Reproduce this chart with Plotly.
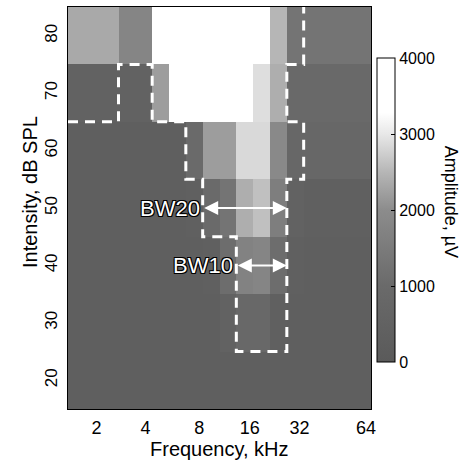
import plotly.graph_objects as go

# ---------------- data ----------------
intensity_db = [20, 30, 40, 50, 60, 70, 80]          # row centres (dB SPL)
n_freq_cols = 18                                     # frequency columns of the map
freq_tick_pos = [1.7, 4.6, 7.8, 10.8, 13.75, 17.7]   # column position of tick labels
freq_tick_text = ["2", "4", "8", "16", "32", "64"]
db_ticks = [20, 30, 40, 50, 60, 70, 80]

# amplitude (µV), one list per intensity row, 18 frequency columns each
amp_20 = [300] * 18
amp_30 = [300, 300, 300, 300, 300, 300, 300, 300, 300, 500, 850, 900, 400, 300, 300, 300, 300, 300]
amp_40 = [300, 300, 300, 300, 300, 300, 300, 300, 400, 1100, 1700, 1800, 1100, 400, 300, 300, 300, 300]
amp_50 = [300, 300, 300, 300, 300, 300, 300, 400, 1000, 1300, 2400, 2600, 1600, 500, 400, 400, 400, 400]
amp_60 = [300, 300, 300, 300, 300, 300, 300, 1000, 2200, 2200, 2850, 2850, 1900, 800, 800, 800, 800, 800]
amp_70 = [500, 500, 500, 500, 500, 2200, 4300, 4300, 4300, 4300, 4300, 2900, 2400, 950, 950, 950, 950, 950]
amp_80 = [2350, 2350, 2350, 1800, 1800, 4500, 4500, 4500, 4500, 4500, 4500, 4500, 2500, 1300, 1300, 1300, 1300, 1300]
amplitude = [amp_20, amp_30, amp_40, amp_50, amp_60, amp_70, amp_80]

# tuning-curve outline (column edge index, dB SPL)
outline_col = [0, 3, 3, 5, 5, 7, 7, 8, 8, 10, 10, 13, 13, 14, 14, 13, 13, 14, 14]
outline_db = [65, 65, 75, 75, 65, 65, 55, 55, 45, 45, 25, 25, 55, 55, 65, 65, 75, 75, 85]

# bandwidth arrows (column edges) and levels
bw20 = dict(label="BW20", lo=8, hi=13, db=50)
bw10 = dict(label="BW10", lo=10, hi=13, db=40)

amp_min, amp_max = 0, 4000
amp_ticks = [0, 1000, 2000, 3000, 4000]

# ---------------- figure ----------------
col_centres = [i + 0.5 for i in range(n_freq_cols)]

gray_scale = [
    [0.0, "rgb(90,90,90)"],
    [0.25, "rgb(106,106,106)"],
    [0.5, "rgb(140,140,140)"],
    [0.625, "rgb(182,182,182)"],
    [0.75, "rgb(232,232,232)"],
    [0.82, "rgb(255,255,255)"],
    [1.0, "rgb(255,255,255)"],
]

fig = go.Figure()
fig.add_trace(go.Heatmap(
    x=col_centres, y=intensity_db, z=amplitude,
    zmin=amp_min, zmax=amp_max, colorscale=gray_scale,
    hoverinfo="skip",
    colorbar=dict(
        x=1.02, xanchor="left", xpad=0, ypad=0,
        y=0.495, yanchor="middle", len=0.756, lenmode="fraction",
        thickness=18, outlinecolor="black", outlinewidth=1,
        tickvals=amp_ticks, ticks="inside", ticklen=4, tickcolor="black",
        tickfont=dict(size=16, color="black"),
    ),
))

fig.add_trace(go.Scatter(
    x=outline_col, y=outline_db, mode="lines",
    line=dict(color="white", width=3, dash="10px,7px"),
    hoverinfo="skip", showlegend=False,
))

halo = "-1px -1px 0 #000, 1px -1px 0 #000, -1px 1px 0 #000, 1px 1px 0 #000"
for bw in (bw20, bw10):
    fig.add_annotation(
        x=bw["hi"], y=bw["db"], ax=bw["lo"], ay=bw["db"],
        xref="x", yref="y", axref="x", ayref="y",
        showarrow=True, arrowside="end+start", arrowhead=2, startarrowhead=2,
        arrowsize=1.4, startarrowsize=1.4, arrowwidth=2, arrowcolor="white",
        standoff=0, startstandoff=0, text="",
    )
    fig.add_annotation(
        x=bw["lo"] - 0.05, y=bw["db"], xref="x", yref="y",
        text=bw["label"], showarrow=False, xanchor="right", yanchor="middle",
        font=dict(size=22, color="white", shadow=halo),
    )

fig.add_annotation(
    x=1.265, y=0.515, xref="paper", yref="paper",
    text="Amplitude, µV", textangle=90, showarrow=False,
    xanchor="center", yanchor="middle",
    font=dict(size=18, color="black"),
)
fig.add_annotation(
    x=0.5, y=-0.1, xref="paper", yref="paper",
    text="Frequency, kHz", showarrow=False,
    xanchor="center", yanchor="middle",
    font=dict(size=20, color="black"),
)
fig.add_annotation(
    x=-0.125, y=0.54, xref="paper", yref="paper",
    text="Intensity, dB SPL", textangle=-90, showarrow=False,
    xanchor="center", yanchor="middle",
    font=dict(size=20, color="black"),
)

fig.update_xaxes(
    range=[0, n_freq_cols], tickvals=freq_tick_pos, ticktext=freq_tick_text,
    ticks="", showgrid=False, zeroline=False, automargin=False,
    showline=True, mirror=True, linecolor="black", linewidth=1,
    tickfont=dict(size=18, color="black"), ticklabelstandoff=2,
)
fig.update_yaxes(
    range=[15, 85], tickvals=db_ticks, tickangle=-90,
    ticks="", showgrid=False, zeroline=False, automargin=False,
    showline=True, mirror=True, linecolor="black", linewidth=1,
    tickfont=dict(size=17, color="black"), ticklabelstandoff=3,
)

fig.update_layout(
    width=461, height=461,
    margin=dict(l=68, r=90, t=7, b=52, autoexpand=False),
    paper_bgcolor="white", plot_bgcolor="white",
    font=dict(family="Liberation Sans, Arial, sans-serif", color="black"),
    showlegend=False,
)

fig.write_html(
    "out.html",
    config={"displayModeBar": False},
    post_script="document.body.style.margin='0';document.body.style.overflow='hidden';",
)
